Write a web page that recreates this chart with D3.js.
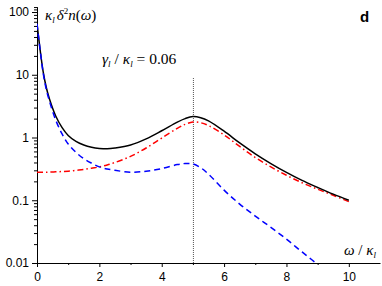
<!DOCTYPE html>
<html>
<head>
<meta charset="utf-8">
<script src="https://cdn.jsdelivr.net/npm/d3@7"></script>
<style>
  body { margin: 0; background: #fff; }
  svg { display: block; }
  .tick text { font-family: "Liberation Sans", Arial, sans-serif; font-size: 12px; fill: #000; }
  .math { font-family: "Liberation Serif", "DejaVu Serif", "Times New Roman", serif; fill: #000; }
</style>
</head>
<body>
<div id="chart"></div>
<script>
// omega / kappa_l
var omega = [0, 0.1, 0.2, 0.3, 0.4, 0.6, 0.8, 1.0, 1.25, 1.5, 1.75, 2.0, 2.25, 2.5, 3.0, 3.5, 4.0,
             4.5, 4.75, 5.0, 5.25, 5.5, 6.0, 6.5, 7.0, 7.5, 8.0, 8.5, 9.0, 9.5, 10];

// total (solid black)
var total = [65, 25, 11, 6.2, 4.1, 2.2, 1.45, 1.08, 0.87, 0.76, 0.7, 0.67, 0.66, 0.68, 0.76, 0.95, 1.28,
             1.76, 2.0, 2.16, 2.07, 1.84, 1.26, 0.82, 0.55, 0.385, 0.278, 0.207, 0.16, 0.125, 0.1];

// blue dashed
var dashed = [65, 25, 10.5, 5.8, 3.8, 1.9, 1.15, 0.79, 0.58, 0.46, 0.39, 0.34, 0.315, 0.3, 0.28, 0.29, 0.32,
              0.37, 0.385, 0.38, 0.33, 0.26, 0.145, 0.087, 0.056, 0.037, 0.024, 0.015, 0.0095, 0.006, 0.004];

// red dash-dot
var dashdot = [0.28, 0.28, 0.28, 0.28, 0.282, 0.284, 0.287, 0.29, 0.3, 0.31, 0.325, 0.34, 0.365, 0.4, 0.5, 0.68, 0.98,
               1.4, 1.62, 1.76, 1.72, 1.55, 1.1, 0.72, 0.48, 0.34, 0.25, 0.19, 0.15, 0.12, 0.095];

var xMajor = [0, 2, 4, 6, 8, 10];
var xMinor = [1, 3, 5, 7, 9];
var yMajor = [0.01, 0.1, 1, 10, 100];
var yLabels = ["0.01", "0.1", "1", "10", "100"];

var width = 382, height = 286;

var svg = d3.select("#chart").append("svg")
    .attr("width", width)
    .attr("height", height);

var x = d3.scaleLinear().domain([0, 11]).range([37, 380]);
var y = d3.scaleLog().domain([0.01, 122]).range([263, 6.6]);

// minor y ticks: 2..9 in every decade
var yMinor = [];
yMajor.slice(0, -1).forEach(function(d){
    for (var k = 2; k <= 9; k++) yMinor.push(d * k);
});
yMinor.push(110, 120);

// dotted line at omega = 5
svg.append("line")
    .attr("x1", x(5) + 0.5).attr("x2", x(5) + 0.5)
    .attr("y1", 78).attr("y2", 263)
    .attr("stroke", "#555")
    .attr("stroke-width", 1)
    .attr("stroke-dasharray", "1,1");

// axes
var xAxis = d3.axisBottom(x).tickValues(xMajor).tickSizeInner(4).tickSizeOuter(0).tickPadding(3)
    .tickFormat(d3.format("d"));
var gx = svg.append("g").attr("transform", "translate(0," + 263 + ")").call(xAxis);
gx.selectAll(".tick text").attr("dy", "0.75em").attr("y", 9);

svg.append("g").attr("transform", "translate(0," + 263 + ")")
    .call(d3.axisBottom(x).tickValues(xMinor).tickSize(2).tickFormat(""))
    .select(".domain").remove();

var yAxis = d3.axisLeft(y).tickValues(yMajor).tickSizeInner(5).tickSizeOuter(0).tickPadding(3)
    .tickFormat(function(d, i){ return yLabels[i]; });
svg.append("g").attr("transform", "translate(37,0)").call(yAxis);

svg.append("g").attr("transform", "translate(37,0)")
    .call(d3.axisLeft(y).tickValues(yMinor).tickSize(3).tickFormat(""))
    .select(".domain").remove();

svg.selectAll(".domain, .tick line").attr("stroke", "#000").attr("stroke-width", 1);

// clip to plot area
svg.append("clipPath").attr("id", "plot")
    .append("rect").attr("x", 37).attr("y", 0).attr("width", 345).attr("height", 263);

function series(vals){
    return omega.map(function(w, i){ return [w, vals[i]]; });
}

var line = d3.line()
    .x(function(d){ return x(d[0]); })
    .y(function(d){ return y(d[1]); })
    .curve(d3.curveCatmullRom.alpha(0.5));

var plot = svg.append("g").attr("clip-path", "url(#plot)");

plot.append("path").datum(series(dashdot))
    .attr("d", line).attr("fill", "none")
    .attr("stroke", "#ff0000").attr("stroke-width", 1.5)
    .attr("stroke-dasharray", "6,3,1.5,3");

plot.append("path").datum(series(total))
    .attr("d", line).attr("fill", "none")
    .attr("stroke", "#000").attr("stroke-width", 1.5);

plot.append("path").datum(series(dashed))
    .attr("d", line).attr("fill", "none")
    .attr("stroke", "#0000ff").attr("stroke-width", 1.5)
    .attr("stroke-dasharray", "6,4");

// texts
var t1 = svg.append("text").attr("class", "math").attr("x", 45).attr("y", 20).style("font-size", "15px");
t1.append("tspan").style("font-style", "italic").text("κ");
t1.append("tspan").style("font-style", "italic").style("font-size", "9px").attr("dy", 3).text("l");
t1.append("tspan").style("font-style", "italic").attr("dy", -3).attr("dx", 2).text("δ");
t1.append("tspan").style("font-size", "9px").attr("dy", -6).text("2");
t1.append("tspan").style("font-style", "italic").attr("dy", 6).text("n");
t1.append("tspan").text("(");
t1.append("tspan").style("font-style", "italic").text("ω");
t1.append("tspan").text(")");

var t2 = svg.append("text").attr("class", "math").attr("x", 102).attr("y", 64).style("font-size", "15.5px");
t2.append("tspan").style("font-style", "italic").text("γ");
t2.append("tspan").style("font-style", "italic").style("font-size", "9px").attr("dy", 3).text("l");
t2.append("tspan").attr("dy", -3).text(" / ");
t2.append("tspan").style("font-style", "italic").text("κ");
t2.append("tspan").style("font-style", "italic").style("font-size", "9px").attr("dy", 3).text("l");
t2.append("tspan").attr("dy", -3).text(" = 0.06");

var t3 = svg.append("text").attr("class", "math").attr("x", 344).attr("y", 255).style("font-size", "15px");
t3.append("tspan").style("font-style", "italic").text("ω");
t3.append("tspan").text(" / ");
t3.append("tspan").style("font-style", "italic").text("κ");
t3.append("tspan").style("font-style", "italic").style("font-size", "9px").attr("dy", 3).text("l");

svg.append("text")
    .attr("x", 360).attr("y", 22)
    .style("font-family", "'Liberation Sans', Arial, sans-serif")
    .style("font-weight", "bold")
    .style("font-size", "15px")
    .text("d");
</script>
</body>
</html>
